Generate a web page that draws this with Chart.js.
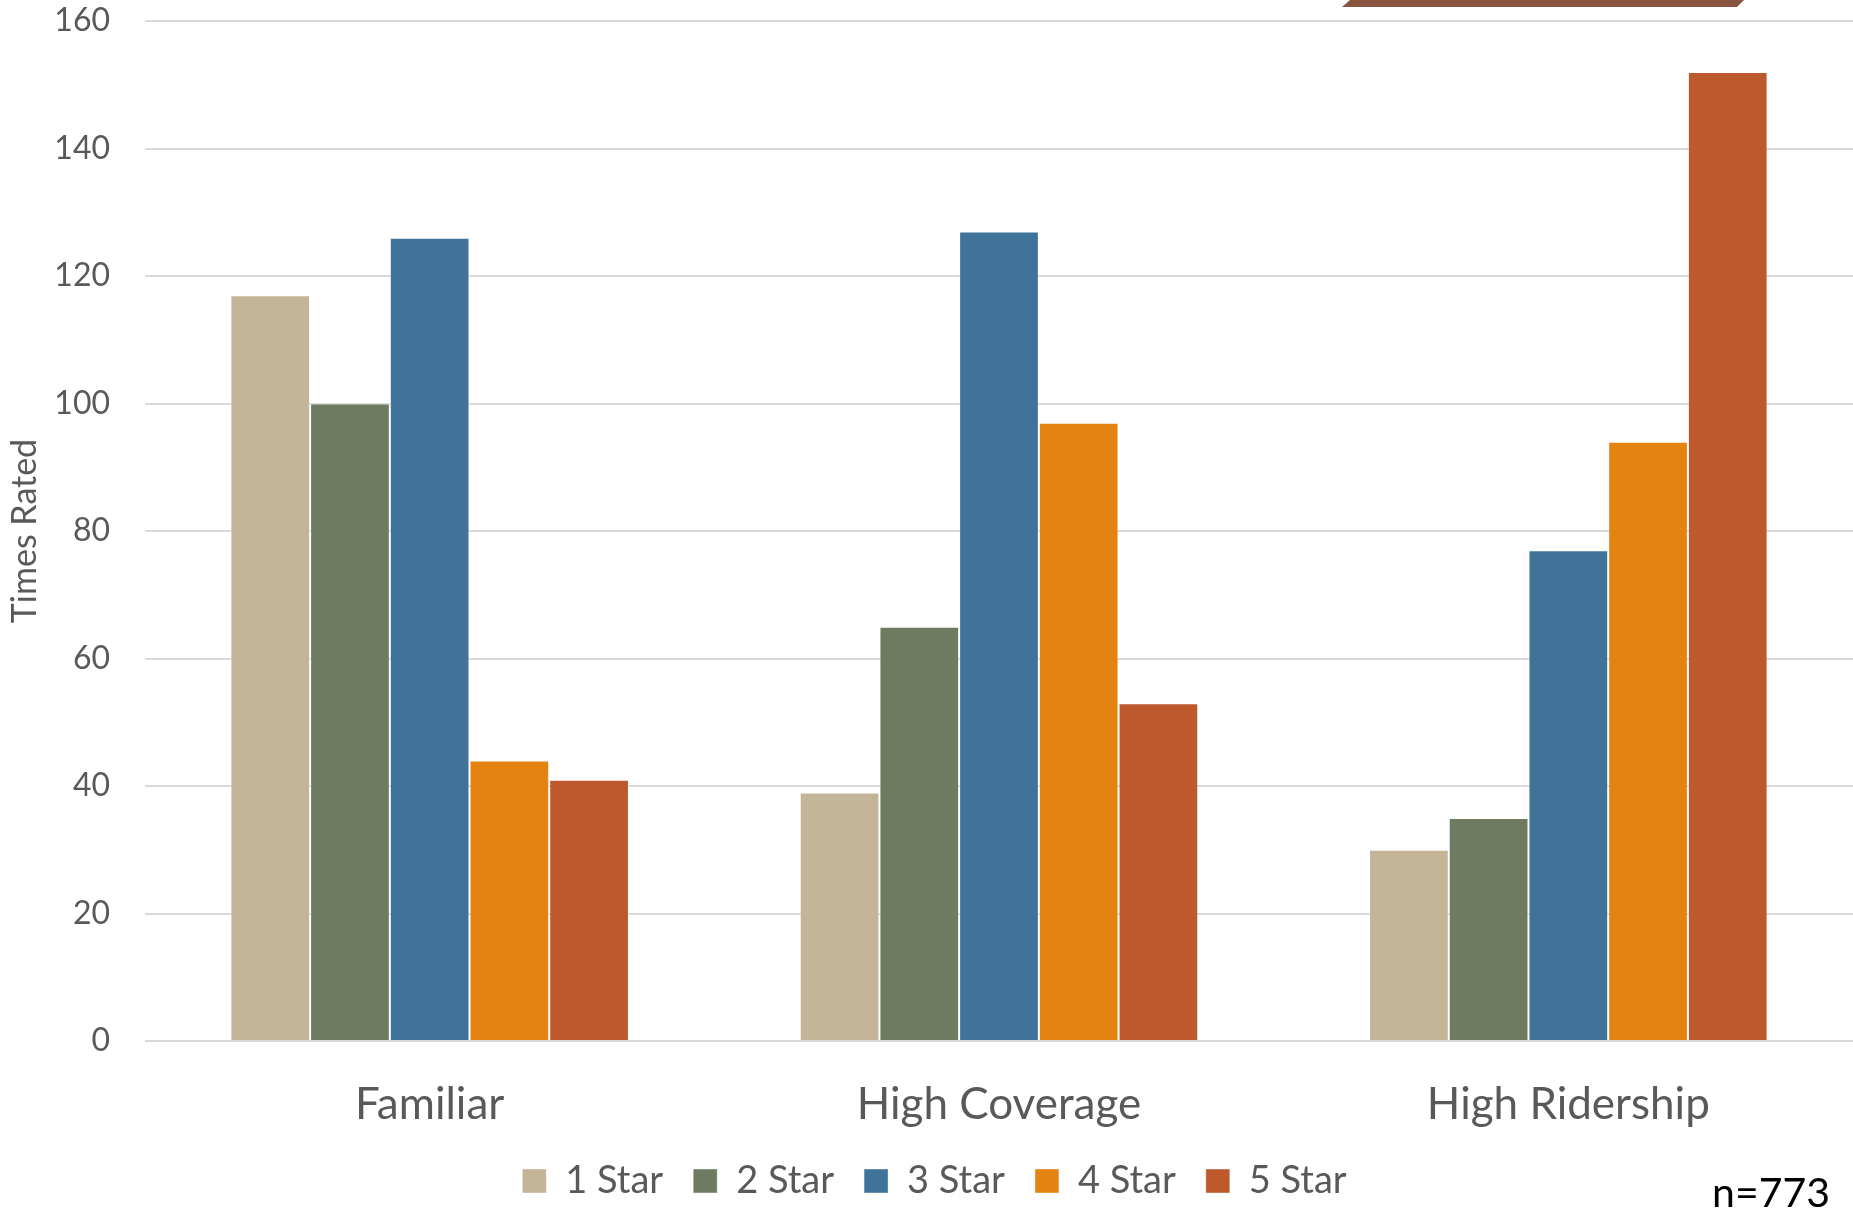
<!DOCTYPE html>
<html lang="en">
<head>
    <meta charset="UTF-8">
    <title>Times Rated</title>
    <script src="https://cdn.jsdelivr.net/npm/chart.js"></script>
    <style>
        html, body {
            margin: 0;
            padding: 0;
            background: #ffffff;
        }
        #wrap {
            width: 1853px;
            height: 1210px;
        }
    </style>
</head>
<body>
    <div id="wrap">
        <canvas id="barChart" width="1853" height="1210"></canvas>
    </div>

    <script>
        const categories = ['Familiar', 'High Coverage', 'High Ridership'];
        const seriesNames = ['1 Star', '2 Star', '3 Star', '4 Star', '5 Star'];
        const oneStar = [117, 39, 30];
        const twoStar = [100, 65, 35];
        const threeStar = [126, 127, 77];
        const fourStar = [44, 97, 94];
        const fiveStar = [41, 53, 152];
        const yTicks = [0, 20, 40, 60, 80, 100, 120, 140, 160];
        const colors = ['#c4b598', '#6e7b61', '#3f7399', '#e58312', '#be582d'];

        const seriesValues = [oneStar, twoStar, threeStar, fourStar, fiveStar];
        const textColor = '#595959';
        const fontName = 'Lato, "Open Sans", sans-serif';

        // banner edge at the top and the n= note
        const extras = {
            id: 'extras',
            afterDraw(chart) {
                const ctx = chart.ctx;
                ctx.save();
                ctx.fillStyle = '#87553f';
                ctx.beginPath();
                ctx.moveTo(1350, 0);
                ctx.lineTo(1744, 0);
                ctx.lineTo(1737, 7);
                ctx.lineTo(1342, 7);
                ctx.closePath();
                ctx.fill();

                ctx.fillStyle = '#000000';
                ctx.font = '41px ' + fontName;
                ctx.textAlign = 'right';
                ctx.textBaseline = 'middle';
                ctx.fillText('n=773', 1830, 1194);
                ctx.restore();
            }
        };

        const ctx = document.getElementById('barChart').getContext('2d');
        new Chart(ctx, {
            type: 'bar',
            data: {
                labels: categories,
                datasets: seriesNames.map((name, i) => ({
                    label: name,
                    data: seriesValues[i],
                    backgroundColor: colors[i],
                    borderColor: 'rgba(255, 255, 255, 0.4)',
                    borderWidth: 1,
                    borderSkipped: 'bottom',
                    barPercentage: 1,
                    categoryPercentage: 0.7
                }))
            },
            options: {
                responsive: false,
                animation: false,
                layout: {
                    padding: { top: 21, left: 16, right: 0, bottom: 0 }
                },
                plugins: {
                    legend: {
                        position: 'bottom',
                        labels: {
                            color: textColor,
                            font: { family: fontName, size: 38 },
                            boxWidth: 24,
                            boxHeight: 24,
                            padding: 30
                        }
                    },
                    tooltip: { enabled: false }
                },
                scales: {
                    x: {
                        afterFit(scale) {
                            scale.height = 91;
                        },
                        grid: { display: false, drawTicks: false },
                        border: { display: false },
                        ticks: {
                            color: textColor,
                            font: { family: fontName, size: 44 },
                            padding: 37
                        }
                    },
                    y: {
                        min: 0,
                        max: 160,
                        afterFit(scale) {
                            scale.width = 129;
                            scale.paddingTop = 0;
                            scale.paddingBottom = 0;
                        },
                        afterBuildTicks(scale) {
                            scale.ticks = yTicks.map(v => ({ value: v }));
                        },
                        grid: {
                            color: '#d9d9d9',
                            lineWidth: 2,
                            drawTicks: false
                        },
                        border: { display: false },
                        ticks: {
                            color: textColor,
                            font: { family: fontName, size: 32 },
                            padding: 35
                        },
                        title: {
                            display: true,
                            text: 'Times Rated',
                            color: textColor,
                            font: { family: fontName, size: 34 },
                            padding: { top: -11, bottom: 0 }
                        }
                    }
                }
            },
            plugins: [extras]
        });
    </script>
</body>
</html>
